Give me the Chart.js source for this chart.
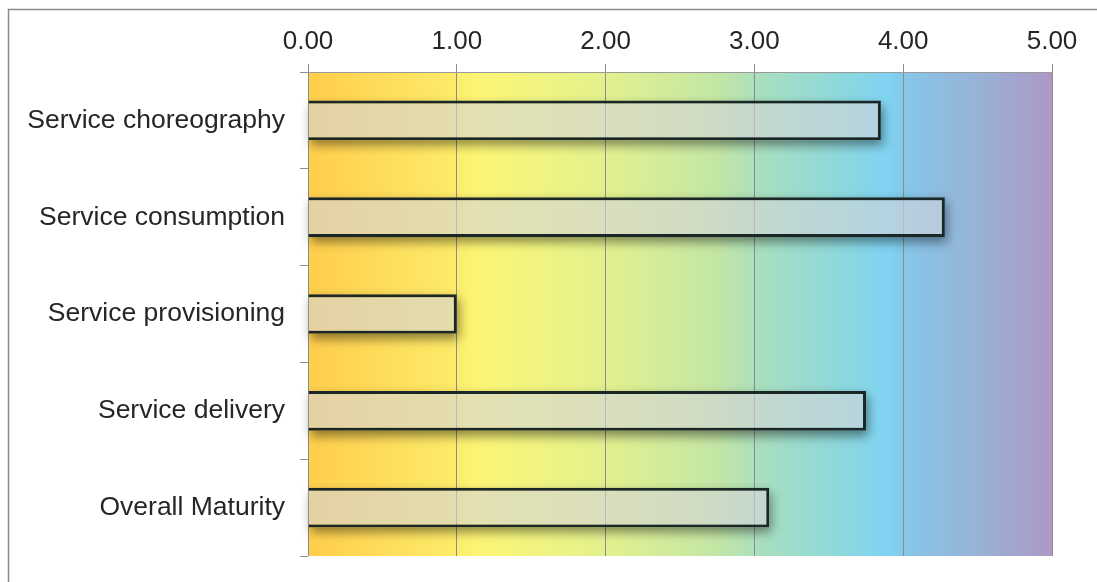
<!DOCTYPE html>
<html lang="en">
<head>
    <meta charset="UTF-8">
    <title>Maturity</title>
    <script src="https://cdn.jsdelivr.net/npm/chart.js"></script>
    <style>
        body {
            margin: 0;
            padding: 0;
            background: white;
        }
    </style>
</head>
<body>
    <canvas id="maturityChart" width="1097" height="582"></canvas>

    <script>
        const categories = ['Service choreography', 'Service consumption', 'Service provisioning', 'Service delivery', 'Overall Maturity'];
        const scores = [3.85, 4.28, 1.00, 3.75, 3.10];
        const xTicks = [0, 1, 2, 3, 4, 5];

        const fontFamily = '"Liberation Sans", Arial, sans-serif';

        // background rainbow behind the plot + the outer frame
        const backdrop = {
            id: 'backdrop',
            beforeDraw(chart) {
                const ctx = chart.ctx;
                const a = chart.chartArea;
                const g = ctx.createLinearGradient(a.left, 0, a.right, 0);
                g.addColorStop(0.00, '#ffce4c');
                g.addColorStop(0.19, '#fdea68');
                g.addColorStop(0.23, '#fcf675');
                g.addColorStop(0.40, '#e3f18e');
                g.addColorStop(0.55, '#c3e6a6');
                g.addColorStop(0.61, '#a8dfbf');
                g.addColorStop(0.72, '#8cd8de');
                g.addColorStop(0.78, '#7fd3f3');
                g.addColorStop(0.81, '#87c5e7');
                g.addColorStop(0.90, '#98b2d6');
                g.addColorStop(1.00, '#ad98c6');
                ctx.save();
                ctx.fillStyle = g;
                ctx.fillRect(a.left, a.top, a.right - a.left, a.bottom - a.top);

                ctx.strokeStyle = '#8a8a8a';
                ctx.lineWidth = 1.5;
                ctx.beginPath();
                ctx.moveTo(8.5, chart.height);
                ctx.lineTo(8.5, 9.5);
                ctx.lineTo(chart.width, 9.5);
                ctx.stroke();
                ctx.restore();
            },
            // soft drop shadow under each bar (kept outside the bar itself)
            beforeDatasetsDraw(chart) {
                const ctx = chart.ctx;
                const meta = chart.getDatasetMeta(0);
                const shift = 5000;
                meta.data.forEach(bar => {
                    const p = bar.getProps(['x', 'y', 'base', 'height'], true);
                    const top = p.y - p.height / 2;
                    ctx.save();
                    ctx.beginPath();
                    ctx.rect(0, 0, chart.width, chart.height);
                    ctx.rect(p.base, top, p.x - p.base, p.height);
                    ctx.clip('evenodd');
                    ctx.shadowColor = 'rgba(0, 0, 0, 0.45)';
                    ctx.shadowBlur = 10;
                    ctx.shadowOffsetX = shift + 2;
                    ctx.shadowOffsetY = 5;
                    ctx.fillStyle = '#000';
                    ctx.fillRect(p.base - shift, top, p.x - p.base, p.height);
                    ctx.restore();
                });
            }
        };

        new Chart(document.getElementById('maturityChart'), {
            type: 'bar',
            data: {
                labels: categories,
                datasets: [{
                    data: scores,
                    backgroundColor: 'rgba(212, 212, 216, 0.62)',
                    borderColor: '#1b2626',
                    borderWidth: 3,
                    categoryPercentage: 1.0,
                    barPercentage: 0.41
                }]
            },
            options: {
                indexAxis: 'y',
                responsive: false,
                animation: false,
                layout: {
                    padding: { left: 0, right: 45, top: 0, bottom: 26 }
                },
                plugins: {
                    legend: { display: false },
                    tooltip: { enabled: false }
                },
                scales: {
                    x: {
                        position: 'top',
                        min: 0,
                        max: 5,
                        afterBuildTicks: (scale) => {
                            scale.ticks = xTicks.map(v => ({ value: v }));
                        },
                        afterFit: (scale) => { scale.height = 72; },
                        ticks: {
                            callback: (v) => Number(v).toFixed(2),
                            color: '#262626',
                            font: { family: fontFamily, size: 26 },
                            padding: 7,
                            maxRotation: 0
                        },
                        grid: {
                            color: '#8c8c8c',
                            lineWidth: 1,
                            tickLength: 8
                        },
                        border: { color: '#9a9a9a', width: 1 }
                    },
                    y: {
                        afterFit: (scale) => {
                            scale.width = 308;
                            scale.paddingTop = 0;
                            scale.paddingBottom = 0;
                        },
                        ticks: {
                            color: '#262626',
                            font: { family: fontFamily, size: 26.5 },
                            padding: 15
                        },
                        grid: {
                            offset: true,
                            drawOnChartArea: false,
                            color: '#8c8c8c',
                            tickLength: 8
                        },
                        border: { display: false }
                    }
                }
            },
            plugins: [backdrop]
        });
    </script>
</body>
</html>
